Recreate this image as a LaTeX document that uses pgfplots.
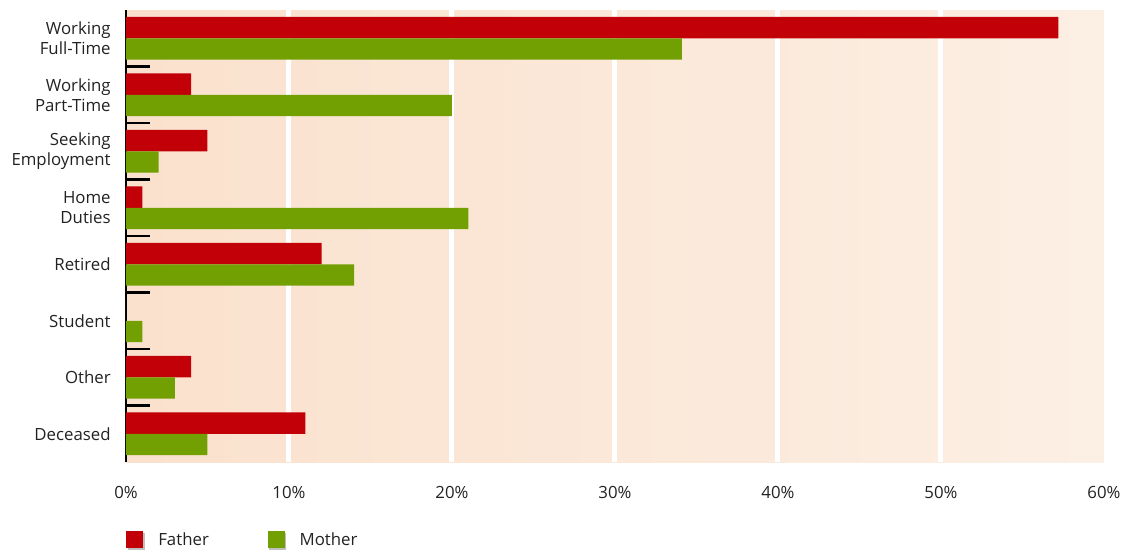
\documentclass[border=0pt]{standalone}
\usepackage{fontspec}
\setmainfont{Open Sans}
\usepackage{pgfplots}
\pgfplotsset{compat=1.18}
\definecolor{fathc}{HTML}{C20008}
\definecolor{mothc}{HTML}{72A002}
\definecolor{bgL}{HTML}{FAE1CD}
\definecolor{bgR}{HTML}{FCEFE4}
\definecolor{txt}{HTML}{222222}
\pgfplotsset{sqlegend/.style={legend image code/.code={%
  \fill[black!25] (1.3pt,-7.7pt) rectangle (14.05pt,5.05pt);
  \fill[##1,draw=none] (0pt,-6.375pt) rectangle (12.75pt,6.375pt);}}}
\begin{document}
\begin{tikzpicture}[font=\fontsize{12.6}{15}\selectfont]
\path[use as bounding box] (-94.5pt,-69pt) rectangle (755.25pt,346.5pt);
\begin{axis}[
 at={(0,0)}, anchor=south west,
 scale only axis, width=733.5pt, height=339pt,
 xmin=0, xmax=60, ymin=-0.5, ymax=7.5,
 xbar, bar width=16pt,
 axis x line*=bottom, x axis line style={draw=none},
 axis y line*=left, y axis line style={black, line width=1.5pt},
 xtick={10,20,30,40,50}, xticklabels={10\%,20\%,30\%,40\%,50\%},
 extra x ticks={0,60}, extra x tick labels={0\%,60\%}, extra x tick style={grid=none},
 xmajorgrids, major grid style={white, line width=3.75pt},
 ytick={0,...,7},
 yticklabels={Deceased, Other, Student, Retired, {Home\\Duties}, {Seeking\\Employment}, {Working\\Part-Time}, {Working\\Full-Time}},
 yticklabel style={align=right, text=txt},
 xticklabel style={text=txt},
 xticklabel shift=15pt, yticklabel shift=8pt,
 minor ytick={0.5,1.5,...,6.5},
 major tick length=0pt, minor tick length=18pt, tick align=inside,
 minor tick style={black, line width=1.8pt},
 axis background/.style={left color=bgL, right color=bgR},
 legend style={at={(0,-0.172)}, anchor=west, draw=none, fill=none, inner sep=0pt, legend columns=2,
   /tikz/every odd column/.append style={column sep=8pt},
   /tikz/every even column/.append style={column sep=42pt}, text=txt},
 legend cell align=left,
]
\addplot[fill=fathc, draw=none, bar shift=8pt, sqlegend] coordinates {(11,0) (4,1) (0,2) (12,3) (1,4) (5,5) (4,6) (57.2,7)};
\addplot[fill=mothc, draw=none, bar shift=-8pt, sqlegend] coordinates {(5,0) (3,1) (1,2) (14,3) (21,4) (2,5) (20,6) (34.1,7)};
\legend{Father, Mother}
\end{axis}
\end{tikzpicture}
\end{document}
